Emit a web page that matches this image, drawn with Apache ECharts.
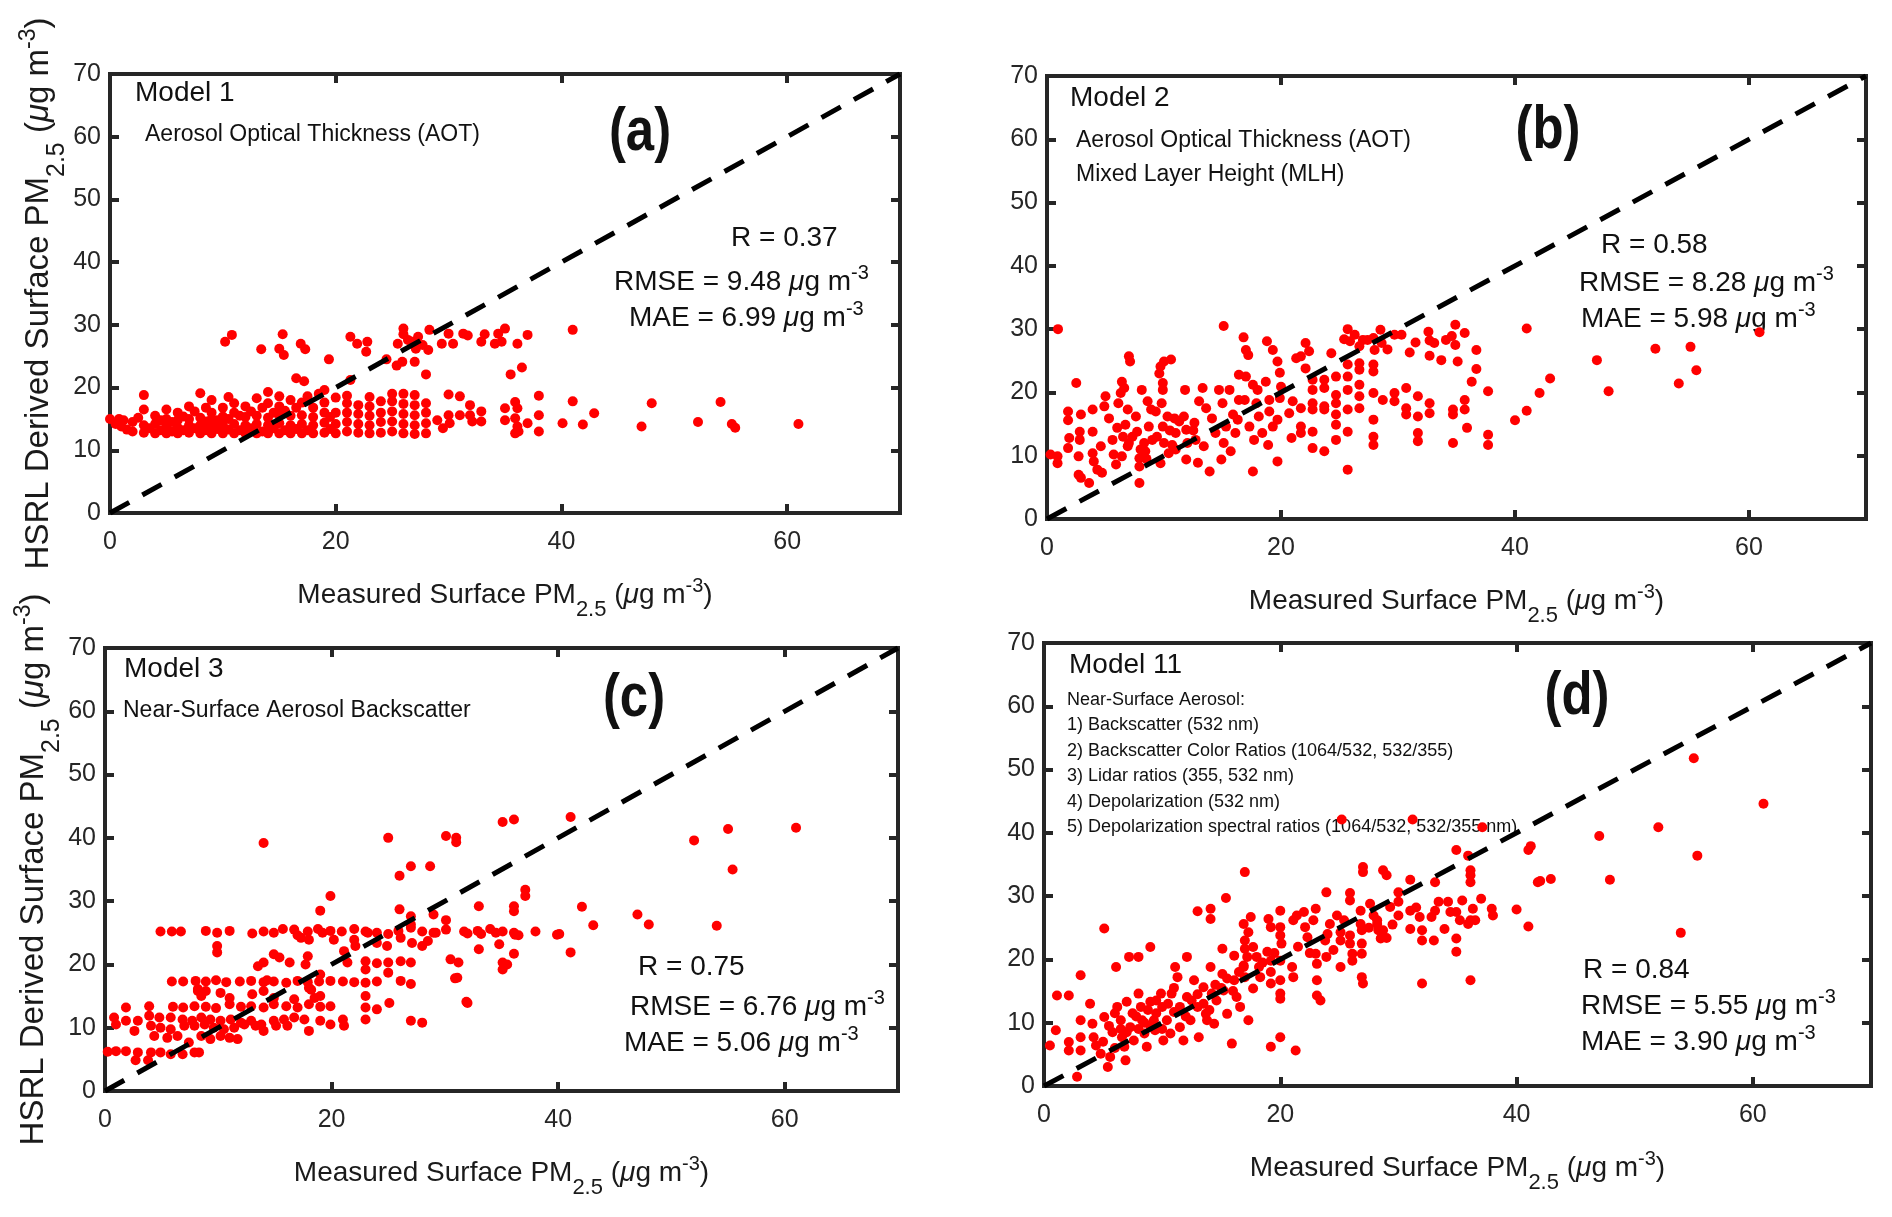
<!DOCTYPE html>
<html>
<head>
<meta charset="utf-8">
<script src="https://cdn.jsdelivr.net/npm/echarts@6/dist/echarts.min.js"></script>
<style>
html, body { margin: 0; padding: 0; background: #fff; }
#chart { width: 1892px; height: 1217px; }
</style>
</head>
<body>
<div id="chart"></div>
<script>
// axis limits, same for all four panels
var xMin = 0, xMax = 70, xStep = 20;
var yMin = 0, yMax = 70, yStep = 10;
var oneToOne = [[0, 0], [70, 70]];

// Model 1 (AOT)
var pointsA = [
    [0,15],[0.5,14.2],[0.8,15],[1,13.8],[1.2,14.8],[1.5,13.3],[2,14.5],[2,13],[2.5,15.2],[3,12.8],[3,14],[3,16.5],[3,18.8],
    [3.5,13.5],[4,12.7],[4,14.2],[4,15.5],[4.5,13.2],[4.5,14.8],[5,12.7],[5,13.8],[5,15],[5,16.5],[5.5,13],[5.5,14.5],
    [6,12.7],[6,13.6],[6,14.8],[6,16],[6.5,13.2],[6.5,15.4],[7,12.8],[7,14],[7,15],[7,17],[7.5,13.5],[7.5,16.2],
    [8,12.7],[8,14],[8,15.2],[8,19.1],[8.5,13.2],[8.5,14.6],[8.5,16.8],[9,12.7],[9,13.8],[9,15],[9,16],[9,18],
    [9.5,13.4],[9.5,14.8],[10,12.7],[10,14],[10,15.4],[10,16.8],[10.5,13.3],[10.5,15],[10.5,18.5],[11,12.7],[11,14.2],[11,16],[11,17.5],
    [11.5,13.2],[11.5,15.5],[12,12.7],[12,14],[12,15.3],[12,17],[12.5,13.5],[12.5,16.2],[13,12.7],[13,14.2],[13,15.5],[13,18.3],
    [13.5,13],[13.5,16.8],[14,12.7],[14,14],[14,15.2],[14,17.5],[14,19.3],[14.5,13.5],[14.5,16],[15,12.7],[15,14.3],[15,15.6],
    [15,17],[15,18.6],[15.5,13.2],[15.5,16.3],[16,12.7],[16,14],[16,15.5],[16,18],[16.5,13.4],[16.5,16.8],[17,12.7],[17,14.2],
    [17,15.6],[17,17.6],[17.5,13.2],[17.5,18.6],[18,12.7],[18,14],[18,15.3],[18,16.8],[18.5,19],[19,12.8],[19,14.4],[19,16],
    [19,17.6],[19.5,13.4],[19.5,15.3],[20,12.7],[20,14.2],[20,16],[20,18.4],
    [21,13],[21,14.5],[21,16],[21,17.5],[21,18.7],[22,12.8],[22,14.2],[22,15.8],[22,17.2],[23,12.7],[23,14],[23,15.5],[23,17],[23,18.5],
    [24,12.8],[24,14.5],[24,16],[24,17.8],[25,13],[25,14.6],[25,16.2],[25,17.8],[25,19],[26,12.7],[26,14.2],[26,15.8],[26,17.4],[26,19],
    [27,12.6],[27,14],[27,15.6],[27,17.2],[27,18.8],[28,12.7],[28,14.3],[28,16],[28,17.5],[29,14.8],[29.5,13.5],
    [10.2,27.3],[10.8,28.4],[13.4,26.1],[15.3,28.5],[15.0,26.2],[15.4,25.2],[16.9,27.0],[17.3,26.1],[19.4,24.5],[21.3,28.1],
    [21.9,27.0],[22.8,27.3],[22.7,25.7],[24.5,24.5],[25.4,23.5],[25.9,24.1],[26.0,29.4],[26.0,28.5],[25.5,27.0],[26.4,27.6],
    [26.9,27.3],[27.1,26.2],[27.0,24.1],[27.3,28.1],[27.7,26.8],[28.2,26.0],[28.0,22.1],[28.3,29.2],[29.4,27.0],[30.0,28.6],
    [30.4,27.0],[31.3,28.6],[31.7,28.3],[32.9,27.3],[33.2,28.5],[34.1,27.0],[34.4,28.6],[34.7,27.3],[35.0,29.4],[36.1,27.0],
    [37.0,28.4],[35.5,22.1],[36.5,23.2],[41.0,29.2],[16.5,21.5],[17.2,21.0],[19.0,19.6],[21.3,21.2],
    [30.0,18.9],[31.0,18.6],[30.0,15.6],[30.1,14.3],[31.0,15.6],[31.9,17.2],[31.9,15.6],[32.1,14.6],[32.9,16.2],[32.9,14.6],
    [35.0,16.7],[35.0,14.8],[35.9,17.7],[36.1,16.7],[35.9,15.1],[36.1,13.8],[35.9,12.7],[36.2,13.0],[37.0,14.3],[38.0,18.7],
    [38.0,15.6],[38.0,13.0],[40.1,14.3],[41.0,17.8],[41.9,14.1],[42.9,15.9],[47.1,13.8],[48.0,17.5],[52.1,14.5],[54.1,17.7],
    [55.1,14.2],[55.4,13.6],[61.0,14.2]
];

// Model 2 (AOT + MLH)
var pointsB = [
    [0.94,30.0],[15.1,30.5],[16.8,28.7],[17.0,26.7],[17.2,25.9],[18.8,28.1],[19.3,26.7],[19.7,24.9],[19.9,23.1],[22.1,27.8],
    [22.4,26.5],[21.7,25.7],[21.3,25.4],[22.1,23.8],[24.3,26.2],
    [25.7,30.0],[25.4,28.4],[26.3,29.1],[25.9,28.1],[26.7,27.3],[27.0,28.3],[27.4,28.3],[27.9,28.6],[28.5,29.9],[28.0,26.7],
    [28.6,27.8],[29.1,26.8],[29.7,29.1],[30.3,29.1],[31.0,26.3],[31.5,27.9],[32.6,29.6],[32.7,28.2],[33.1,27.8],[32.7,25.8],
    [33.7,25.1],[34.1,28.3],[34.6,28.9],[34.9,30.7],[34.9,27.5],[35.1,24.9],[35.7,29.4],[36.7,26.7],[36.7,23.7],[36.3,21.7],[37.7,20.2],
    [47.0,25.1],[48.0,20.2],[52.0,26.9],[55.0,27.2],[54.0,21.4],[55.5,23.5],[60.9,29.5],[43.0,22.2],[42.1,19.9],[41.0,17.1],
    [40.0,15.6],[41.0,30.1],
    [0.3,10.2],[0.9,9.9],[0.9,8.8],[1.8,17.0],[1.8,15.6],[1.9,12.8],[1.8,11.2],[2.7,9.9],[2.9,16.5],[2.8,13.8],[2.8,12.5],
    [2.7,7.0],[2.9,6.5],[2.5,21.5],[3.6,5.7],[3.9,17.3],[3.9,13.8],[3.9,10.4],[4.0,9.1],[4.3,7.8],[4.6,11.5],[4.9,17.8],
    [5.0,19.4],[4.7,7.3],[5.3,15.9],[5.6,12.5],[5.7,10.2],[5.9,8.6],[6.1,18.3],[6.3,19.9],[6.4,21.7],[6.6,20.7],[6.7,14.9],
    [6.9,17.3],[6.9,11.5],[7.0,25.7],[7.1,24.9],[6.0,14.4],[6.4,9.9],[7.3,13.0],[7.6,16.2],[7.7,13.8],[7.9,8.3],[7.9,5.7],
    [8.1,20.4],[8.3,12.0],[8.6,18.6],[8.7,14.6],[8.9,17.3],[8.4,10.7],[7.9,9.6],[9.3,17.0],[9.4,13.0],[9.6,23.0],[9.7,24.1],
    [9.9,21.5],[9.9,20.4],[10.0,24.9],[9.8,18.3],[9.7,8.8],[9.9,14.6],[10.3,16.2],[10.6,25.2],[10.7,11.7],[10.4,10.4],
    [10.9,15.9],[11.0,13.6],[11.3,15.4],[11.7,16.2],[11.8,20.4],[11.9,14.1],[11.9,9.4],[12.6,15.2],[12.7,12.5],[12.9,8.9],
    [13.3,20.7],[13.0,18.6],[13.6,17.5],[13.4,11.5],[13.9,7.5],[14.1,15.9],[14.4,13.6],[14.7,20.4],[14.9,9.4],[15.0,18.3],
    [15.1,12.0],[15.3,14.6],[15.6,20.4],[15.7,10.7],[15.9,16.5],[16.1,13.6],[16.4,22.8],[16.4,18.8],[16.3,15.7],[16.9,18.8],
    [17.0,22.5],[17.3,14.6],[17.6,21.2],[17.6,7.5],[17.7,12.5],[17.9,18.3],[18.0,20.4],[18.1,16.2],[18.4,13.6],[18.7,21.7],
    [18.9,11.7],[19.0,18.8],[19.0,17.0],[19.3,14.6],[19.7,9.1],[19.7,15.7],[19.9,19.1],[20.0,20.9],[20.9,12.8],[21.0,18.6],
    [20.7,16.7],[21.7,17.5],[21.7,14.6],[21.7,13.6],
    [22.7,22.0],[22.7,20.4],[22.7,18.3],[22.7,17.3],[22.7,13.8],[22.7,11.2],[23.7,22.0],[23.7,20.7],[23.7,17.8],[23.7,17.3],
    [23.7,10.7],[24.7,22.5],[24.7,19.6],[24.7,18.3],[24.7,16.5],[24.7,14.9],[24.7,12.5],[25.7,24.4],[25.7,22.5],[25.7,20.4],
    [25.7,17.3],[25.7,13.8],[25.7,7.8],[26.7,24.6],[26.7,23.6],[26.7,21.2],[26.7,19.4],[26.7,17.5],[27.9,24.4],[27.9,23.3],
    [27.9,19.9],[27.9,15.7],[27.9,13.0],[27.9,11.7],
    [28.7,18.8],[29.7,19.9],[29.7,18.6],[30.7,20.7],[30.7,17.5],[30.7,16.5],[31.7,19.4],[31.7,16.2],[31.7,13.6],[31.7,12.3],
    [32.7,18.3],[32.7,16.7],[34.7,17.3],[34.7,16.5],[34.7,12.0],[35.7,18.8],[35.7,17.3],[35.9,14.4],[37.7,13.3],[37.7,11.7],
    [7.0,12.0],[8.0,11.0],[9.0,12.5],[10.0,12.0],[11.0,11.0],[12.0,12.0],[8.5,9.5],[10.5,14.0],[12.5,14.0],[6.5,13.0]
];

// Model 3 (near-surface backscatter)
var pointsC = [
    [14.0,39.2],[25.0,40.0],[30.1,40.3],[31.0,40.0],[31.0,39.3],[35.1,42.5],[36.1,42.9],[41.1,43.3],[26.0,34.0],[27.0,35.5],
    [28.7,35.5],[19.9,30.8],[19.0,28.5],[26.0,28.7],[27.0,27.6],[27.0,26.3],[29.0,27.9],[30.1,27.0],[33.0,29.2],[36.1,29.2],
    [36.1,28.4],[37.1,31.8],[37.1,30.8],[42.1,29.1],[43.1,26.2],[41.1,21.9],[52.0,39.6],[55.0,41.4],[61.0,41.6],[55.4,35.0],
    [47.0,27.9],[48.0,26.3],[54.0,26.1],[39.9,24.7],[38.0,25.2],[31.9,14.1],
    [4.9,25.2],[5.9,25.2],[6.7,25.2],[8.9,25.3],[9.9,25.0],[11.0,25.3],[13.0,24.9],[14.0,25.2],[14.9,25.0],[15.7,25.6],
    [16.7,25.5],[17.0,24.6],[17.9,25.2],[18.8,25.6],[19.2,25.0],[19.9,25.3],[20.9,25.2],[22.0,25.6],[23.0,25.2],[24.0,25.0],
    [25.0,24.8],[25.9,25.3],[27.0,25.8],[28.0,25.2],[29.0,25.0],[30.1,25.5],[31.7,25.2],[32.0,24.9],[32.9,25.3],[33.2,24.8],
    [34.0,25.6],[34.5,25.0],[35.1,25.2],[36.1,25.0],[36.5,24.6],[40.1,24.8],
    [17.3,24.2],[18.0,23.9],[20.2,23.9],[22.0,23.9],[22.1,22.9],[23.2,25.0],[24.0,23.4],[24.9,22.9],[26.1,24.2],[27.1,23.4],
    [28.0,22.9],[28.5,23.7],[34.8,23.2],[36.2,24.7],[29.2,25.0],[9.9,22.9],[9.9,21.9],[33.0,22.4],[36.1,21.7],[21.1,22.1],
    [21.4,20.3],[14.9,21.6],[15.4,21.1],[17.9,21.3],[17.7,20.0],[13.5,19.7],[14.0,20.3],[16.3,20.3],[23.0,20.5],[23.0,19.2],
    [24.0,20.2],[25.0,20.3],[25.0,18.7],[26.1,20.5],[26.1,17.4],[27.0,20.3],[27.0,16.9],[30.5,20.8],[31.2,20.3],[31.1,17.9],
    [35.1,20.3],[35.1,19.2],[35.5,20.0],
    [5.9,17.3],[6.9,17.3],[8.0,17.4],[8.9,17.3],[9.8,17.5],[10.7,17.2],[11.9,17.3],[12.9,17.4],[14.0,17.2],[14.3,17.5],
    [14.9,17.3],[16.0,17.1],[17.0,17.4],[17.9,17.2],[18.9,17.3],[19.9,17.4],[21.0,17.3],[22.0,17.2],[23.0,17.1],[24.0,17.3],
    [19.0,18.4],[30.9,17.8],
    [8.2,15.8],[8.9,15.8],[10.2,15.5],[18.2,16.0],[8.2,16.1],[8.5,15.0],[11.0,14.7],[13.0,15.3],[14.0,15.8],[14.9,14.7],
    [16.7,14.5],[18.0,16.3],[18.5,14.7],[19.0,15.0],[23.0,15.0],[25.1,13.9],[32.0,13.9],
    [1.85,13.2],[3.9,13.4],[6.0,13.3],[6.9,13.2],[7.9,13.4],[8.9,13.3],[9.8,13.1],[11.0,13.7],[12.0,13.3],[12.9,13.4],
    [14.0,13.2],[14.9,13.7],[16.0,13.4],[17.0,13.2],[18.0,13.7],[19.0,13.3],[19.9,13.4],[23.0,13.2],[24.0,12.9],
    [0.8,11.6],[1.85,11.1],[2.9,11.1],[3.9,11.9],[4.8,11.6],[5.8,11.6],[6.85,11.3],[7.7,11.1],[8.5,11.6],[9.3,11.3],
    [10.2,11.1],[11.1,11.3],[12.0,10.8],[12.9,11.1],[13.8,10.5],[14.9,11.1],[15.8,11.3],[16.7,11.6],[17.6,11.3],[18.0,9.5],
    [19.0,11.1],[19.9,10.5],[21.0,11.3],[21.1,10.3],[23.0,11.3],[27.0,11.1],[28.0,10.8],[0.97,10.5],[2.6,9.5],[4.06,10.3],
    [4.9,10.0],[5.8,9.75],[7.0,10.3],[7.9,10.3],[8.8,10.5],[9.6,10.0],[10.5,9.75],[11.4,10.0],[12.3,10.5],[13.3,10.3],
    [14.0,9.5],[15.1,10.3],[16.1,10.3],
    [4.35,8.7],[5.5,8.4],[6.4,8.7],[7.4,7.65],[8.5,8.7],[9.3,8.2],[10.2,8.7],[11.0,8.4],[11.7,8.2],
    [0.24,6.2],[0.97,6.3],[1.85,6.3],[2.9,6.1],[2.7,4.86],[3.8,4.86],[4.06,6.1],[4.9,6.1],[5.8,5.8],[6.85,5.8],[7.9,6.1],[8.3,6.1]
];

// Model 11 (all near-surface lidar predictors)
var pointsD = [
    [34.9,37.3],[35.9,36.4],[36.1,34.1],[36.1,33.3],[36.1,32.2],[41.0,37.3],[41.8,32.2],[27.0,34.6],[27.0,33.8],[28.7,34.1],
    [29.0,33.3],[31.0,32.6],[33.1,32.2],[17.0,33.8],[15.4,29.7],[13.0,27.6],[14.1,28.0],[14.1,26.4],[5.1,24.9],[23.9,30.6],
    [25.9,30.5],[25.9,29.3],[30.0,30.6],[30.0,29.1],[29.3,28.3],[30.0,26.95],[31.0,27.7],[31.5,28.2],[31.8,26.7],[32.8,26.7],
    [33.1,27.7],[33.4,29.1],[34.2,29.1],[34.4,27.5],[34.9,27.5],[35.2,26.2],[35.4,29.3],[36.1,26.2],[36.3,28.0],[36.5,26.2],
    [37.0,29.6],[37.9,28.0],[38.0,26.95],[40.0,27.9],[41.0,25.2],[34.9,23.3],[34.9,21.2],[36.1,16.7],[32.0,16.2],[31.0,24.8],
    [32.0,24.6],[32.0,23.0],[33.0,23.0],[33.9,24.8],[35.9,25.6],[28.7,24.6],[29.0,23.4],[28.2,26.2],
    [55.0,51.8],[60.9,44.6],[52.0,40.9],[47.0,39.5],[55.3,36.4],[53.9,24.2],[47.9,32.6],[42.0,32.4],[42.9,32.7],[25.2,42.1],
    [31.2,42.1],[37.1,40.9],[41.2,37.9],
    [16.9,25.6],[17.5,26.7],[17.3,24.3],[17.0,23.0],[17.0,21.7],[17.2,20.4],[16.9,19.05],[17.7,21.95],[18.0,20.4],[18.2,18.8],
    [18.3,17.2],[18.9,21.2],[19.2,19.8],[19.2,18.0],[19.2,16.2],[19.0,26.4],[19.2,25.1],[20.0,27.7],[20.0,25.1],[20.0,23.8],
    [20.1,22.5],[20.0,19.8],[20.0,16.7],[20.0,14.6],[20.0,13.8],[21.0,18.8],[21.1,17.2],[21.1,26.2],[21.4,26.95],[22.0,27.5],
    [22.1,25.1],[22.3,23.5],[22.8,26.2],[23.0,28.0],[23.0,20.9],[23.1,19.3],[23.1,16.7],[23.1,14.3],[23.4,13.5],[23.8,23.0],
    [23.9,20.4],[24.2,25.6],[24.8,26.95],[25.1,24.3],[25.1,23.0],[25.1,18.8],[25.4,26.2],[25.9,23.8],[25.9,22.5],[26.1,20.9],
    [26.1,19.8],[26.8,25.6],[26.9,24.6],[26.9,22.5],[26.9,20.9],[26.9,17.2],[27.0,16.2],[27.6,28.8],[27.9,26.95],[28.2,25.6],
    [28.3,24.6],[28.5,23.3],[26.8,27.7],
    [0.5,6.4],[1.0,8.8],[1.1,14.3],[2.1,14.3],[2.1,6.95],[2.1,5.6],[2.8,1.45],[3.1,17.5],[3.1,10.4],[3.1,7.7],[3.1,5.6],
    [3.9,13.0],[4.1,9.85],[4.2,7.7],[4.4,6.4],[4.8,5.1],[5.1,10.9],[5.4,3.0],[5.6,4.6],[5.8,8.5],[6.1,18.8],[6.2,12.5],
    [6.5,10.4],[6.6,7.7],[6.8,6.2],[6.9,4.05],[7.0,13.3],[7.2,20.4],[7.3,9.3],[7.6,7.2],[8.0,20.4],[8.0,14.6],[8.2,12.5],
    [8.3,10.4],[8.5,8.3],[8.7,6.2],[9.0,21.95],[9.0,13.3],[9.3,10.4],[9.4,8.8],[9.9,14.6],[10.0,12.5],[10.1,7.2],[10.4,10.4],
    [10.7,8.3],[10.8,14.6],[11.0,11.7],[11.1,18.8],[11.3,17.2],[11.5,9.3],[11.8,7.2],[12.1,20.4],[12.1,14.05],[12.4,10.4],
    [12.7,16.7],[13.0,12.5],[13.1,7.7],[13.5,15.6],[13.7,11.4],[13.8,10.4],[14.1,18.8],[14.2,14.6],[14.4,9.85],[14.6,13.5],
    [15.1,21.7],[15.1,17.7],[15.2,15.1],[15.5,11.4],[15.9,6.7],[16.1,20.6],[16.1,16.7],[16.3,14.05],[16.6,12.5],[17.3,10.4],
    [19.2,6.2],[20.0,7.7],[21.3,5.6],[16.9,18.8],[17.0,17.2],[17.7,15.4],
    [5.5,9.5],[6.0,11.5],[7.0,8.5],[7.8,11.0],[8.8,12.0],[9.5,11.5],[10.5,13.0],[11.5,12.5],[12.5,13.5],[13.0,14.5],
    [14.5,16.0],[15.0,15.5],[16.0,15.0],[9.0,9.5],[8.0,9.0],[6.5,9.0],
    [5.0,7.0],[6.0,6.0],[7.5,11.5],[8.5,10.0],[9.5,13.5],[10.0,9.0],[11.0,15.5],[12.0,11.0],[13.5,13.0],[14.0,12.0],
    [15.5,17.0],[16.5,18.0],[18.5,19.5],[19.5,21.0],[21.5,22.0],[22.5,21.0],[24.5,21.5],[24.0,24.0],[27.5,25.0],[29.5,25.5]
];

var panelLetters = ['(a)', '(b)', '(c)', '(d)'];
var modelNames = ['Model 1', 'Model 2', 'Model 3', 'Model 11'];
var statR = ['0.37', '0.58', '0.75', '0.84'];
var statRMSE = ['9.48', '8.28', '6.76', '5.55'];
var statMAE = ['6.99', '5.98', '5.06', '3.90'];
var predictorsA = ['Aerosol Optical Thickness (AOT)'];
var predictorsB = ['Aerosol Optical Thickness (AOT)', 'Mixed Layer Height (MLH)'];
var predictorsC = ['Near-Surface Aerosol Backscatter'];
var predictorsD = [
    'Near-Surface Aerosol:',
    '1) Backscatter (532 nm)',
    '2) Backscatter Color Ratios (1064/532, 532/355)',
    '3) Lidar ratios (355, 532 nm)',
    '4) Depolarization (532 nm)',
    '5) Depolarization spectral ratios (1064/532, 532/355 nm)'
];

var FONT = "'Liberation Sans', Arial, Helvetica, sans-serif";
var AXIS_COLOR = '#262626';

var chart = echarts.init(document.getElementById('chart'), null, { renderer: 'canvas' });

// plot boxes in pixels
var grids = [
    { left: 110, right: 992, top: 74, bottom: 704 },
    { left: 1047, right: 26, top: 76, bottom: 698 },
    { left: 105, right: 994, top: 648, bottom: 126 },
    { left: 1044, right: 21, top: 643, bottom: 131 }
];
var panelPoints = [pointsA, pointsB, pointsC, pointsD];

var xName = 'Measured Surface PM{sub|2.5} ({mu|\u03bc}g m{sup|-3})';
var yName = 'HSRL Derived Surface PM{sub|2.5} ({mu|\u03bc}g m{sup|-3})';

var xAxes = [], yAxes = [], series = [];
grids.forEach(function (g, i) {
    g.show = true;
    g.borderColor = AXIS_COLOR;
    g.borderWidth = 4;
    g.containLabel = false;

    var tick = { show: true, inside: true, length: 9, lineStyle: { color: AXIS_COLOR, width: 4 } };
    // bottom x
    xAxes.push({
        gridIndex: i, type: 'value', position: 'bottom',
        min: xMin, max: xMax, interval: xStep,
        axisLine: { show: false, onZero: false },
        axisTick: tick,
        axisLabel: { fontSize: 25, color: AXIS_COLOR, margin: 17, fontFamily: FONT, showMaxLabel: false },
        splitLine: { show: false },
        name: xName, nameLocation: 'middle', nameGap: 56,
        nameTextStyle: {
            fontSize: 28, color: '#1a1a1a', fontFamily: FONT,
            rich: {
                sub: { fontSize: 22, fontFamily: FONT, color: '#1a1a1a', padding: [30, 0, 0, 0] },
                mu: { fontSize: 28, fontFamily: FONT, color: '#1a1a1a', fontStyle: 'italic' },
                sup: { fontSize: 20, fontFamily: FONT, color: '#1a1a1a', padding: [0, 0, 18, 0] }
            }
        }
    });
    // top x, ticks only
    xAxes.push({
        gridIndex: i, type: 'value', position: 'top',
        min: xMin, max: xMax, interval: xStep,
        axisLine: { show: false, onZero: false },
        axisTick: tick,
        axisLabel: { show: false },
        splitLine: { show: false }
    });
    var left = {
        gridIndex: i, type: 'value', position: 'left',
        min: yMin, max: yMax, interval: yStep,
        axisLine: { show: false, onZero: false },
        axisTick: tick,
        axisLabel: { fontSize: 25, color: AXIS_COLOR, margin: 9, fontFamily: FONT },
        splitLine: { show: false }
    };
    if (i === 0 || i === 2) {
        left.name = yName;
        left.nameLocation = 'middle';
        left.nameGap = 18;
        left.nameTextStyle = {
            fontSize: 33, color: '#1a1a1a', fontFamily: FONT,
            rich: {
                sub: { fontSize: 25, fontFamily: FONT, color: '#1a1a1a', padding: [36, 0, 0, 0] },
                mu: { fontSize: 33, fontFamily: FONT, color: '#1a1a1a', fontStyle: 'italic' },
                sup: { fontSize: 23, fontFamily: FONT, color: '#1a1a1a', padding: [0, 0, 20, 0] }
            }
        };
    }
    yAxes.push(left);
    yAxes.push({
        gridIndex: i, type: 'value', position: 'right',
        min: yMin, max: yMax, interval: yStep,
        axisLine: { show: false, onZero: false },
        axisTick: tick,
        axisLabel: { show: false },
        splitLine: { show: false }
    });

    series.push({
        type: 'scatter', xAxisIndex: i * 2, yAxisIndex: i * 2,
        data: panelPoints[i], symbol: 'circle', symbolSize: 10,
        itemStyle: { color: '#ff0000', opacity: 1 }, silent: true, z: 2
    });
    series.push({
        type: 'line', xAxisIndex: i * 2, yAxisIndex: i * 2,
        data: oneToOne, symbol: 'none', silent: true, z: 3,
        lineStyle: { color: '#000', width: 5, type: [22, 15] }
    });
});

// text helper, y is the baseline
function label(x, y, text, size, extra) {
    var el = {
        type: 'text', x: x, y: y - 0.35 * size, z: 0, silent: true,
        style: {
            text: text, fontSize: size, fontFamily: FONT, fill: '#111',
            align: 'left', verticalAlign: 'middle'
        }
    };
    if (extra) {
        for (var k in extra) el.style[k] = extra[k];
    }
    return el;
}
var statRich = {
    mu: { fontSize: 28, fontFamily: FONT, fill: '#111', fontStyle: 'italic' },
    sup: { fontSize: 20, fontFamily: FONT, fill: '#111', padding: [0, 0, 17, 0] }
};

var graphics = [];
// model names
var modelPos = [[135, 103], [1070, 108], [124, 679], [1069, 675]];
modelNames.forEach(function (m, i) {
    graphics.push(label(modelPos[i][0], modelPos[i][1], m, 28));
});
// predictor lists
graphics.push(label(145, 143, predictorsA[0], 23));
graphics.push(label(1076, 149, predictorsB[0], 23));
graphics.push(label(1076, 183, predictorsB[1], 23));
graphics.push(label(123, 719, predictorsC[0], 23));
var dBase = [706, 731, 757, 782.5, 808, 833.5];
predictorsD.forEach(function (t, j) {
    graphics.push(label(1067, dBase[j], t, 18));
});
// panel letters (bold, a little condensed)
var letterPos = [[640, 133], [1548, 131], [634, 699], [1577, 697]];
panelLetters.forEach(function (t, i) {
    graphics.push({
        type: 'text', x: letterPos[i][0], y: letterPos[i][1], z: 0, silent: true,
        scaleX: 0.82, originX: 0, originY: 0,
        style: {
            text: t, fontSize: 62, fontWeight: 'bold', fontFamily: FONT, fill: '#111',
            align: 'center', verticalAlign: 'middle'
        }
    });
});
// statistics
var statPos = [
    [[731, 248], [614, 292], [629, 328]],
    [[1601, 255], [1579, 293], [1581, 329]],
    [[638, 977], [630, 1017], [624, 1053]],
    [[1583, 980], [1581, 1016], [1581, 1052]]
];
statPos.forEach(function (p, i) {
    graphics.push(label(p[0][0], p[0][1], 'R = ' + statR[i], 28));
    graphics.push(label(p[1][0], p[1][1], 'RMSE = ' + statRMSE[i] + ' {mu|\u03bc}g m{sup|-3}', 28, { rich: statRich }));
    graphics.push(label(p[2][0], p[2][1], 'MAE = ' + statMAE[i] + ' {mu|\u03bc}g m{sup|-3}', 28, { rich: statRich }));
});

chart.setOption({
    backgroundColor: '#ffffff',
    animation: false,
    grid: grids,
    xAxis: xAxes,
    yAxis: yAxes,
    series: series,
    graphic: graphics
});
</script>
</body>
</html>
